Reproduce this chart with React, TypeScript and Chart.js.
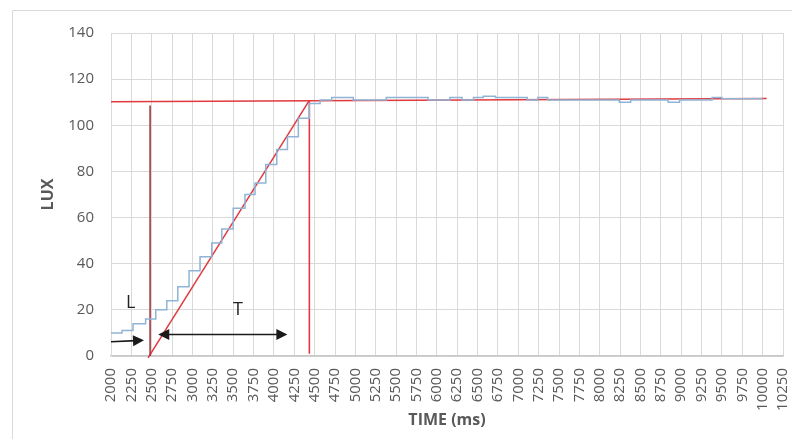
import React, { useEffect, useRef } from "react";
import { Chart, registerables } from "chart.js";

Chart.register(...registerables);

// ---- data ----
const xTickValues = [
  2000, 2250, 2500, 2750, 3000, 3250, 3500, 3750, 4000, 4250, 4500, 4750,
  5000, 5250, 5500, 5750, 6000, 6250, 6500, 6750, 7000, 7250, 7500, 7750,
  8000, 8250, 8500, 8750, 9000, 9250, 9500, 9750, 10000, 10250,
];
const yTickValues = [0, 20, 40, 60, 80, 100, 120, 140];

// step changes: time (ms) when the value changes, and new lux value
const luxTimes = [
  2000, 2135, 2270, 2425, 2550, 2685, 2820, 2958, 3093, 3237, 3360, 3500,
  3645, 3768, 3900, 4035, 4166, 4300, 4435, 4567, 4710, 4975, 5380, 5893,
  6160, 6310, 6450, 6570, 6720, 7110, 7240, 7360, 8240, 8380, 8840, 8980,
  9380, 9500, 10000,
];
const luxValues = [
  10, 11, 14, 16, 20, 24, 30, 37, 43, 49, 55, 64,
  70, 75, 83, 89.5, 95, 103, 109.4, 111, 112, 111, 112, 111,
  112, 111, 112, 112.6, 112, 111, 112, 111, 110, 111, 110, 111,
  112, 111.5, 111.5,
];

// annotation lines (time, lux)
const steadyLine = [
  [2000, 110.2],
  [10050, 111.6],
];
const delayLine = [
  [2480, 108.6],
  [2480, 0],
];
const rampLine = [
  [2455, -0.8],
  [4435, 110.8],
];
const riseEndLine = [
  [4435, 110.6],
  [4435, 1],
];
// arrows: [x1, y1, x2, y2, double-headed]
const arrows: [number, number, number, number, boolean][] = [
  [2000, 6.2, 2405, 6.8, false],
  [2580, 9.3, 4165, 9.3, true],
];
const labels: [string, number, number][] = [
  ["L", 2242, 23],
  ["T", 3560, 20],
];

const toPts = (a: number[][]) => a.map(([x, y]) => ({ x, y }));

const TEXT = "#595959";
const GRID = "#d9d9d9";
const FONT = "'Open Sans', 'DejaVu Sans', sans-serif";

export default function App() {
  const ref = useRef<HTMLCanvasElement | null>(null);

  useEffect(() => {
    if (!ref.current) return;

    const overlay = {
      id: "overlay",
      beforeDraw(chart: any) {
        const ctx = chart.ctx;
        ctx.save();
        ctx.strokeStyle = GRID;
        ctx.lineWidth = 1;
        ctx.beginPath();
        ctx.moveTo(12.5, 439);
        ctx.lineTo(12.5, 10.5);
        ctx.lineTo(792, 10.5);
        ctx.stroke();
        ctx.restore();
      },
      afterDatasetsDraw(chart: any) {
        const ctx = chart.ctx;
        const xs = chart.scales.x;
        const ys = chart.scales.y;
        ctx.save();
        ctx.strokeStyle = "#1a1a1a";
        ctx.fillStyle = "#1a1a1a";
        ctx.lineWidth = 1.6;
        const head = (tx: number, ty: number, ang: number) => {
          const L = 11;
          const W = 5.5;
          ctx.beginPath();
          ctx.moveTo(tx, ty);
          ctx.lineTo(
            tx - L * Math.cos(ang) + W * Math.sin(ang),
            ty - L * Math.sin(ang) - W * Math.cos(ang)
          );
          ctx.lineTo(
            tx - L * Math.cos(ang) - W * Math.sin(ang),
            ty - L * Math.sin(ang) + W * Math.cos(ang)
          );
          ctx.closePath();
          ctx.fill();
        };
        arrows.forEach(([x1, y1, x2, y2, dbl]) => {
          const px1 = xs.getPixelForValue(x1);
          const py1 = ys.getPixelForValue(y1);
          const px2 = xs.getPixelForValue(x2);
          const py2 = ys.getPixelForValue(y2);
          const ang = Math.atan2(py2 - py1, px2 - px1);
          ctx.beginPath();
          ctx.moveTo(px1 + (dbl ? 8 * Math.cos(ang) : 0), py1 + (dbl ? 8 * Math.sin(ang) : 0));
          ctx.lineTo(px2 - 8 * Math.cos(ang), py2 - 8 * Math.sin(ang));
          ctx.stroke();
          head(px2, py2, ang);
          if (dbl) head(px1, py1, ang + Math.PI);
        });
        ctx.font = `18px ${FONT}`;
        ctx.textAlign = "center";
        ctx.textBaseline = "middle";
        ctx.fillStyle = "#222";
        labels.forEach(([t, x, y]) => {
          ctx.fillText(t, xs.getPixelForValue(x), ys.getPixelForValue(y));
        });
        ctx.restore();
      },
    };

    const lineDs = (data: number[][], color: string, width = 1.6) => ({
      data: toPts(data),
      borderColor: color,
      borderWidth: width,
      pointRadius: 0,
      fill: false,
      clip: false as any,
    });

    const chart = new Chart(ref.current, {
      type: "line",
      data: {
        datasets: [
          {
            data: luxTimes.map((t, i) => ({ x: t, y: luxValues[i] })),
            borderColor: "#8fb4d6",
            borderWidth: 1.5,
            pointRadius: 0,
            stepped: "before",
            fill: false,
          },
          lineDs(steadyLine, "#e0393e", 1.7),
          lineDs(delayLine, "#a33a40", 1.6),
          lineDs(rampLine, "#e0393e", 1.5),
          lineDs(riseEndLine, "#e0393e", 1.6),
        ] as any,
      },
      options: {
        animation: false,
        responsive: false,
        layout: { padding: { top: 33, right: 9, left: 0, bottom: 0 } },
        plugins: {
          legend: { display: false },
          tooltip: { enabled: false },
        },
        scales: {
          x: {
            type: "linear",
            min: 2000,
            max: 10250,
            afterBuildTicks: (s: any) => {
              s.ticks = xTickValues.map((v) => ({ value: v }));
            },
            afterFit: (s: any) => {
              s.height = 439 - 356;
              s.paddingRight = 0;
              s.paddingLeft = 0;
            },
            ticks: {
              autoSkip: false,
              minRotation: 90,
              maxRotation: 90,
              padding: 12,
              color: TEXT,
              font: { family: FONT, size: 15 },
              callback: (v: any) => String(v),
            },
            grid: { color: GRID, lineWidth: 1, drawTicks: false },
            border: { color: "#c8c8c8", width: 1.5 },
            title: {
              display: true,
              text: "TIME (ms)",
              color: TEXT,
              font: { family: FONT, size: 16, weight: "bold" },
              padding: { top: 0, bottom: 9 },
            },
          },
          y: {
            type: "linear",
            min: 0,
            max: 140,
            afterBuildTicks: (s: any) => {
              s.ticks = yTickValues.map((v) => ({ value: v }));
            },
            afterFit: (s: any) => {
              s.width = 111;
            },
            ticks: {
              padding: 17,
              color: TEXT,
              font: { family: FONT, size: 15 },
            },
            grid: { color: GRID, lineWidth: 1, drawTicks: false },
            border: { color: GRID },
            title: {
              display: true,
              text: "LUX",
              color: TEXT,
              font: { family: FONT, size: 16, weight: "bold" },
              padding: { top: 39, bottom: 0 },
            },
          },
        },
      },
      plugins: [overlay],
    });

    return () => chart.destroy();
  }, []);

  return (
    <div style={{ position: "fixed", left: 0, top: 0, width: 792, height: 439, background: "#fff" }}>
      <canvas ref={ref} width={792} height={439} />
    </div>
  );
}
